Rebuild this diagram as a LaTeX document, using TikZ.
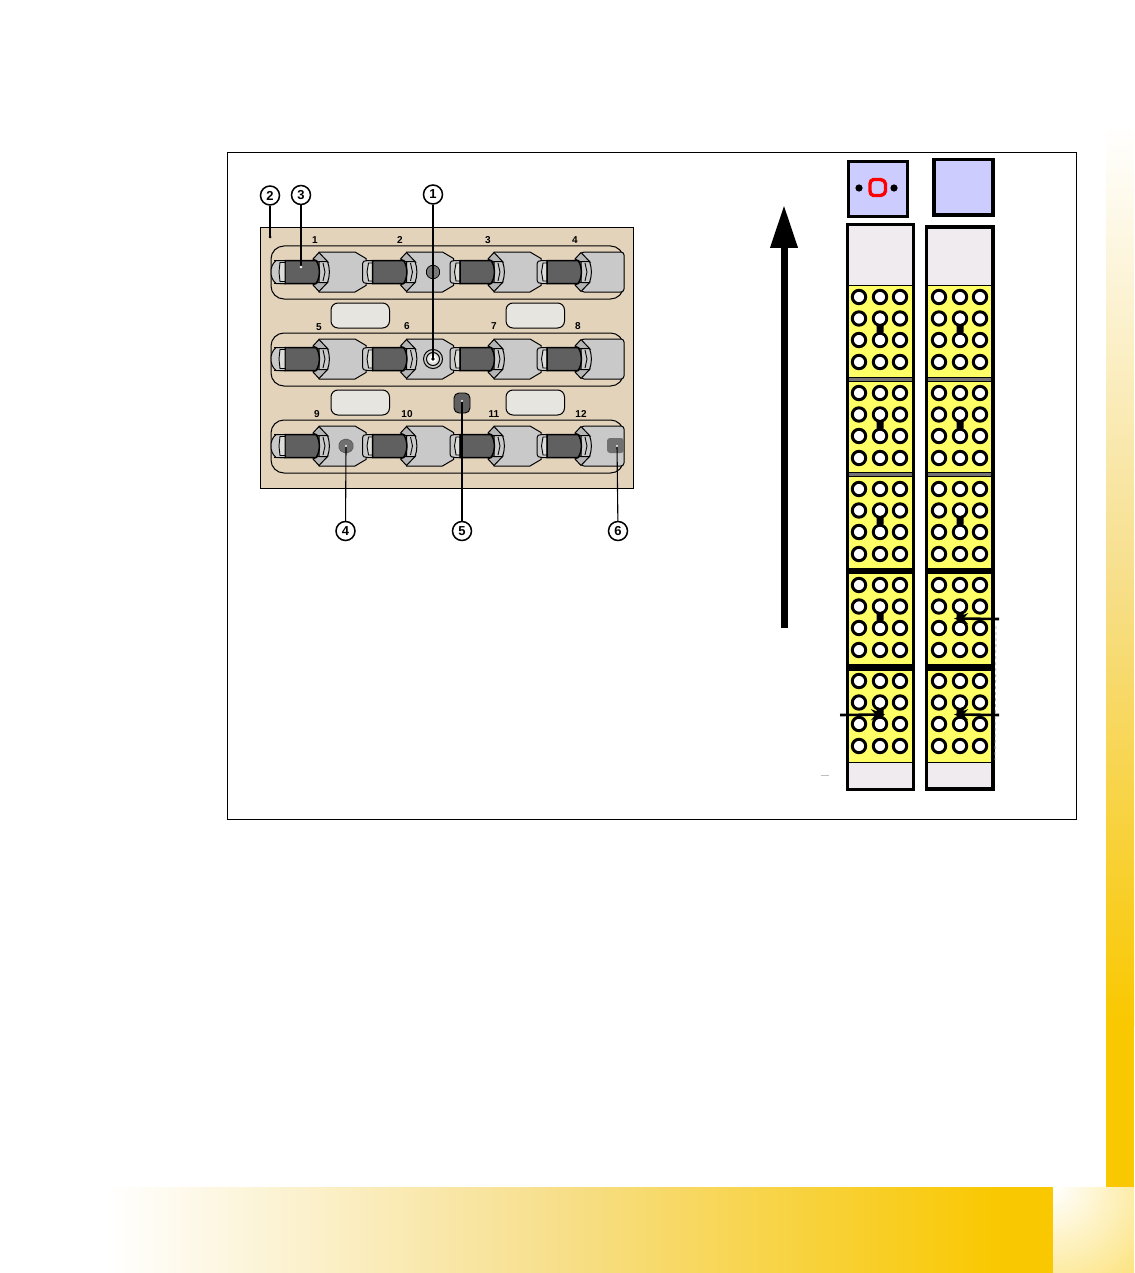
\documentclass[tikz,border=0pt]{standalone}
\usepackage{fontspec}
\setmainfont{Liberation Sans}
\usetikzlibrary{arrows.meta}
\definecolor{tanbg}{HTML}{E3D3BB}
\definecolor{bodygrey}{HTML}{C9C9C9}
\definecolor{collargrey}{HTML}{B5B5B5}
\definecolor{roddark}{HTML}{606060}
\definecolor{ovalfill}{HTML}{E6E5E0}
\definecolor{lilac}{HTML}{CCCCFF}
\definecolor{capfill}{HTML}{EFEBEF}
\definecolor{holeyellow}{HTML}{FFFF66}
\definecolor{gold}{HTML}{F9C800}
\definecolor{midgold}{HTML}{F7DF8C}
\newcommand{\cylparts}{%
  \filldraw[fill=bodygrey,draw=black,line width=1pt] (-10,-7) .. controls (-10,-11) and (-8,-11.5) .. (-5,-11.5) -- (0,-11.5) -- (0,11.5) -- (-5,11.5) .. controls (-8,11.5) and (-10,11) .. (-10,7) -- cycle;
  \filldraw[fill=ovalfill!70!bodygrey,draw=black,line width=.9pt] (0,-9) -- (-4,-9) -- (-5.5,0) -- (-4,9) -- (0,9) -- cycle;
  \filldraw[fill=collargrey,draw=black,line width=1pt] (28,-13) -- (34,-19.5) -- (43,-10) -- (34,-10) -- cycle;
  \filldraw[fill=collargrey,draw=black,line width=1pt] (28,13) -- (34,19.5) -- (43,10) -- (34,10) -- cycle;
  \filldraw[fill=bodygrey,draw=black,line width=1pt] (34,-10.5) -- (42.5,-10.5) .. controls (45,-4) and (45,4) .. (42.5,10.5) -- (34,10.5) -- cycle;
  \draw[line width=.9pt] (38,-9) -- (40,0) -- (38,9);
  \filldraw[fill=roddark,draw=black,line width=1.5pt] (0,-11.5) -- (31,-11.5) .. controls (35.5,-6) and (35.5,6) .. (31,11.5) -- (0,11.5) -- cycle;
}
\tikzset{
  unitcyl/.pic={
    \filldraw[fill=bodygrey,draw=black,line width=1pt] (34,-20) -- (70,-20) -- (81,-13.5) -- (81,13.5) -- (70,20) -- (34,20) -- cycle;
    \cylparts
  },
  lastcyl/.pic={
    \filldraw[fill=bodygrey,draw=black,line width=1pt,rounded corners=3pt] (34,-20) -- (77,-20) -- (77,20) -- (34,20) -- cycle;
    \cylparts
  },
  rowbox/.style={draw=black,line width=1pt,rounded corners=13pt},
  oval/.style={draw=black,line width=1pt,fill=ovalfill,rounded corners=7pt},
  callout/.style={circle,draw=black,line width=1.5pt,fill=white,minimum size=19pt,inner sep=0pt,font=\bfseries\fontsize{13}{13}\selectfont},
  numlabel/.style={inner sep=0pt,font=\bfseries\fontsize{10}{10}\selectfont},
  leader/.style={draw=black,line width=1.1pt},
  holehole/.style={fill=white,draw=black,line width=3pt},
  sect/.style={fill=holeyellow,draw=black,line width=.8pt},
  smallarrow/.style={draw=black,line width=2.6pt,-{Stealth[length=14pt,width=11pt]}},
}
\begin{document}
\begin{tikzpicture}[x=1pt,y=-1pt]
\useasboundingbox (0,0) rectangle (1134,1273);
\fill[white] (0,0) rectangle (1134,1273);
% page decoration
\shade[top color=white,bottom color=gold,middle color=midgold] (1106,124) rectangle (1134,1025);
\fill[gold] (1106,1024.5) rectangle (1134,1187);
\shade[left color=white,right color=gold,middle color=midgold] (106,1187) rectangle (1000,1273);
\fill[gold] (999.5,1187) rectangle (1053,1273);
\begin{scope}
\clip (1053,1187) rectangle (1134,1273);
\shade[inner color=white,outer color=gold] (817,951) rectangle (1289,1423);
\end{scope}
% frame
\draw[black,line width=1pt] (227.5,152.5) rectangle (1076.5,819.5);
% panel
\filldraw[fill=tanbg,draw=black,line width=1.2pt] (260.5,227.5) rectangle (633.5,488.5);
\foreach \yy in {246,333,420}{
  \draw[rowbox] (271,\yy) rectangle (623.5,\yy+53);
}
\foreach \yy in {272,359,446}{
  \foreach \xx in {285,372.5,460}{
    \pic at (\xx,\yy) {unitcyl};
  }
  \pic at (547,\yy) {lastcyl};
  \filldraw[fill=bodygrey,draw=black,line width=1pt] (285,\yy-11.5) -- (276,\yy-11.5) .. controls (272,\yy-8) and (271,\yy-4) .. (271,\yy) .. controls (271,\yy+4) and (272,\yy+8) .. (276,\yy+11.5) -- (285,\yy+11.5) -- cycle;
  \filldraw[fill=ovalfill!70!bodygrey,draw=black,line width=.9pt] (285,\yy-9.5) -- (280,\yy-9.5) -- (279,\yy) -- (280,\yy+9.5) -- (285,\yy+9.5) -- cycle;
  \draw[black,line width=1.5pt] (274,\yy-11.5) -- (285,\yy-11.5) (274,\yy+11.5) -- (285,\yy+11.5);
}
% ovals
\foreach \ox/\oy in {331/303,506/303,331/390,506/390}{
  \draw[oval] (\ox,\oy) rectangle (\ox+58.5,\oy+25);
}
% features
\filldraw[fill=roddark!85!white,draw=black,line width=.7pt,rounded corners=2pt] (433,264.5) -- (439.5,268) -- (439.5,276) -- (433,279.5) -- (426.5,276) -- (426.5,268) -- cycle;
\draw[black,line width=1pt,fill=bodygrey] (433,359) circle (9.5);
\draw[black,line width=1pt,fill=ovalfill] (433,359) circle (6.5);
\fill[white] (433,359) circle (3.5);
\filldraw[fill=roddark!90!white,draw=roddark,line width=.8pt,rounded corners=2pt] (346,438.5) -- (353,442) -- (353,450) -- (346,453.5) -- (339,450) -- (339,442) -- cycle;
\filldraw[fill=roddark,draw=black,line width=.9pt,rounded corners=5pt] (454,393) rectangle (470,413);
\fill[roddark!90!white,rounded corners=3pt] (607,438) rectangle (624,453);
% row numbers
\node[numlabel] (n1) at (315,240) {1};
\node[numlabel] (n2) at (400,240) {2};
\node[numlabel] (n3) at (488,240) {3};
\node[numlabel] (n4) at (575,240) {4};
\node[numlabel] (n5) at (319,327) {5};
\node[numlabel] (n6) at (407,326) {6};
\node[numlabel] (n7) at (494,326) {7};
\node[numlabel] (n8) at (578,326) {8};
\node[numlabel] (n9) at (317,414) {9};
\node[numlabel] (n10) at (407,414) {10};
\node[numlabel] (n11) at (494,414) {11};
\node[numlabel] (n12) at (581,414) {12};
% callouts
\node[callout] (c2) at (270,195.5) {2};
\node[callout] (c3) at (301,195) {3};
\node[callout] (c1) at (433,194.5) {1};
\node[callout] (c4) at (345.5,531) {4};
\node[callout] (c5) at (462,531) {5};
\node[callout] (c6) at (618,531) {6};
\coordinate (e2) at (270,237);
\coordinate (e3) at (301,267);
\coordinate (e1) at (433,359);
\coordinate (e4) at (346,446);
\coordinate (e5) at (462,401);
\coordinate (e6) at (617,446);
\foreach \aa in {1,...,6}{
  \draw[leader] (c\aa) -- (e\aa);
}
\fill[black] (e2) circle (1.5);
\fill[white] (e3) circle (1.3);
\fill[black] (e1) circle (1.8);
\fill[white] (e4) circle (1.1);
\fill[white] (e5) circle (1.1);
\fill[white] (e6) circle (1.1);
% big arrow
\coordinate (upb) at (784,628);
\coordinate (upt) at (784,205);
\draw[black,line width=7pt,-{Triangle[length=43pt,width=26pt]}] (upb) -- (upt);
% top boxes
\filldraw[fill=lilac,draw=black,line width=3pt] (848.5,161.5) rectangle (907,217);
\filldraw[fill=lilac,draw=black,line width=3.5pt] (934,159.5) rectangle (993,215);
\draw[red,line width=3.4pt,rounded corners=1.5pt] (872,179.5) -- (882,179.5) -- (885.5,182.5) -- (885.5,192.5) -- (882,195.5) -- (872,195.5) -- (870,192.5) -- (870,182.5) -- cycle;
\fill[black] (859,188) circle (3.6);
\fill[black] (894,188) circle (3.6);
% columns
\foreach \xa/\xb/\ya/\wd in {847.5/913.5/225/3,926.5/993/227/3.8}{
  \fill[capfill] (\xa,\ya) rectangle (\xb,790);
  \fill[black!55] (\xa,377) rectangle (\xb,381);
  \fill[black!55] (\xa,472) rectangle (\xb,476);
  \fill[black] (\xa,568) rectangle (\xb,573);
  \fill[black] (\xa,664) rectangle (\xb,670);
  \foreach \ta/\tb in {285/377,381/472,476/568,573/664,670/762}{
    \draw[sect] (\xa,\ta) rectangle (\xb,\tb);
  }
  \draw[black,line width=\wd pt] (\xa,\ya) rectangle (\xb,789);
}
% holes
\foreach \xa/\xb/\xc in {859/880/900,939/960/980}{
  \foreach \sy in {285,381,477,573,669}{
    \foreach \hy in {12,33.5,55,77}{
      \foreach \hx in {\xa,\xb,\xc}{
        \draw[holehole] (\hx,\sy+\hy) circle (6.7);
      }
    }
    \fill[black,rounded corners=1pt] (\xb-3.5,\sy+39) rectangle (\xb+3.5,\sy+48);
    \fill[white] (\xb,\sy+33.5) circle (5.2);
    \fill[white] (\xb,\sy+55) circle (5.2);
  }
}
% small arrows
\coordinate (la1) at (840,715);
\coordinate (la2) at (885,714.5);
\coordinate (ra1) at (999,619);
\coordinate (ra2) at (954,618.5);
\coordinate (rb1) at (999,715);
\coordinate (rb2) at (954,714.5);
\draw[smallarrow] (la1) -- (la2);
\draw[smallarrow] (ra1) -- (ra2);
\draw[smallarrow] (rb1) -- (rb2);
\draw[black!25,line width=.8pt] (821,775) -- (829,775);
\draw[black!30,line width=.8pt,dashed] (996,626) -- (995,760);
\end{tikzpicture}
\end{document}
